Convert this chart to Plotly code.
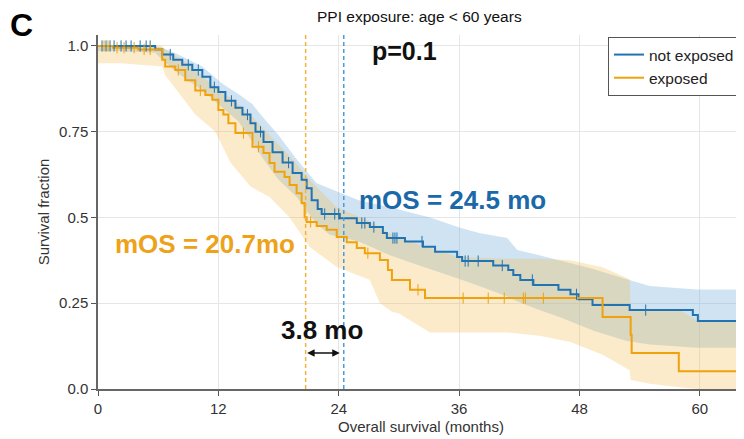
import numpy as np
import plotly.graph_objects as go

# ---------------- data ----------------
# Kaplan-Meier step curve: not exposed
ne_t = [0, 5.7, 6.4, 7.5, 8.4, 9.4, 10.4, 11.2, 12.0, 12.7, 13.7, 14.4, 15.2, 15.7, 16.5,
        17.4, 18.4, 19.4, 20.3, 20.8, 21.3, 21.9, 22.3, 24.1, 25.8, 27.1, 28.4, 28.8, 30.6,
        32.4, 33.6, 35.8, 36.3, 39.4, 40.9, 41.4, 42.1, 43.4, 45.9, 47.1, 47.9, 49.3, 53.0,
        59.3, 59.8]
ne_s = [1.0, 0.99, 0.975, 0.96, 0.945, 0.93, 0.91, 0.88, 0.866, 0.84, 0.82, 0.80, 0.775,
        0.75, 0.72, 0.69, 0.66, 0.63, 0.61, 0.585, 0.55, 0.525, 0.51, 0.498, 0.484, 0.472,
        0.455, 0.44, 0.43, 0.415, 0.40, 0.385, 0.373, 0.36, 0.347, 0.332, 0.318, 0.303,
        0.289, 0.276, 0.262, 0.245, 0.23, 0.216, 0.198]
ne_cens = [0.4, 0.8, 1.2, 1.6, 2.3, 2.8, 3.3, 4.2, 4.8, 5.2, 7.2, 9.0, 10.0, 11.6, 13.3,
           14.9, 16.2, 19.0, 22.6, 23.6, 24.0, 26.3, 26.6, 27.5, 29.4, 29.6, 29.8, 32.3,
           36.6, 36.9, 37.9, 40.3, 43.3, 47.7, 54.6]

# Kaplan-Meier step curve: exposed
ex_t = [0, 1.5, 4.0, 6.4, 6.7, 7.7, 8.7, 9.7, 10.7, 11.4, 12.0, 12.5, 13.0, 13.7, 15.4,
        16.5, 17.1, 17.6, 18.6, 19.1, 19.8, 20.3, 20.6, 20.8, 21.8, 22.8, 23.8, 24.8, 25.8,
        26.6, 28.1, 28.9, 29.3, 31.1, 32.6, 50.3, 53.1, 53.2, 57.9]
ex_s = [1.0, 0.995, 0.99, 0.96, 0.94, 0.93, 0.90, 0.87, 0.857, 0.843, 0.813, 0.80, 0.775,
        0.746, 0.706, 0.688, 0.659, 0.633, 0.618, 0.595, 0.571, 0.542, 0.501, 0.487, 0.475,
        0.464, 0.443, 0.428, 0.411, 0.396, 0.376, 0.347, 0.318, 0.289, 0.265, 0.21, 0.158,
        0.105, 0.052]
ex_cens = [0.6, 1.0, 1.9, 2.6, 3.6, 4.6, 5.2, 8.0, 10.2, 14.5, 16.0, 21.2, 26.9, 31.9,
           36.4, 38.9, 40.5, 42.4, 42.6, 44.4]

# confidence bands
ne_band_t = [0, 2, 5.7, 6.4, 8, 9.4, 10.4, 12.4, 14, 15.4, 16.5, 18, 19.8, 21.8, 23.1, 26,
             29.1, 31, 33.1, 36.1, 38, 40.8, 41.8, 44, 46, 49.4, 52.7, 55, 59.7, 64.4]
ne_hi = [1.0, 1.0, 1.0, 0.995, 0.975, 0.955, 0.94, 0.89, 0.86, 0.83, 0.79, 0.74, 0.67, 0.60,
         0.585, 0.55, 0.53, 0.515, 0.50, 0.47, 0.455, 0.44, 0.405, 0.39, 0.375, 0.35, 0.32,
         0.30, 0.29, 0.29]
ne_lo = [0.985, 0.985, 0.98, 0.96, 0.92, 0.89, 0.87, 0.82, 0.78, 0.72, 0.67, 0.61, 0.56,
         0.48, 0.45, 0.43, 0.39, 0.37, 0.35, 0.32, 0.30, 0.27, 0.255, 0.23, 0.21, 0.17, 0.14,
         0.13, 0.12, 0.12]

ex_band_t = [0, 2.3, 6.4, 6.7, 8.4, 9.7, 11.7, 13.2, 15.2, 17.1, 19.1, 21.1, 23.8, 27.1,
             28.1, 29.3, 30, 33.1, 36, 40.8, 44, 47.1, 50.3, 53.0, 53.1, 55, 58, 59.7, 64.4]
ex_hi = [1.0, 1.0, 1.0, 0.99, 0.96, 0.93, 0.88, 0.85, 0.80, 0.74, 0.68, 0.61, 0.53, 0.49,
         0.47, 0.45, 0.44, 0.41, 0.385, 0.38, 0.38, 0.375, 0.355, 0.32, 0.23, 0.23, 0.23,
         0.2, 0.2]
ex_lo = [0.95, 0.95, 0.94, 0.915, 0.85, 0.80, 0.75, 0.66, 0.59, 0.56, 0.50, 0.414, 0.356,
         0.318, 0.25, 0.225, 0.22, 0.165, 0.165, 0.165, 0.155, 0.137, 0.10, 0.055, 0.026,
         0.015, 0.005, 0.0, 0.0]

median_ne = 24.5
median_ex = 20.7
x_ticks = [0, 12, 24, 36, 48, 60]
y_ticks = [0.0, 0.25, 0.5, 0.75, 1.0]
y_ticklabels = ["0.0", "0.25", "0.5", "0.75", "1.0"]
x_end = 64.4

BLUE = "#2273b2"
ORANGE = "#efa20c"

# page offset of the figure inside the browser body (default 8px body margin)
OFF = 8
ML, MR, MT, MB = 98 - OFF, OFF, 35 - OFF, 439 - 389 + OFF
PW, PH = 744 - ML - MR, 439 - MT - MB


def px_to_paper(sx, sy):
    fx, fy = sx - OFF, sy - OFF
    return (fx - ML) / PW, (439 - MB - fy) / PH


def extend(t, s):
    return list(t) + [x_end], list(s) + [s[-1]]


def at(t, s, c):
    idx = np.searchsorted(np.array(t), np.array(c), side="right") - 1
    return np.array(s)[idx]


fig = go.Figure()

# bands
fig.add_trace(go.Scatter(x=ne_band_t, y=ne_lo, mode="lines", line=dict(width=0),
                         showlegend=False, hoverinfo="skip"))
fig.add_trace(go.Scatter(x=ne_band_t, y=ne_hi, mode="lines", line=dict(width=0),
                         fill="tonexty", fillcolor="rgba(110,170,220,0.33)",
                         showlegend=False, hoverinfo="skip"))
fig.add_trace(go.Scatter(x=ex_band_t, y=ex_lo, mode="lines", line=dict(width=0),
                         showlegend=False, hoverinfo="skip"))
fig.add_trace(go.Scatter(x=ex_band_t, y=ex_hi, mode="lines", line=dict(width=0),
                         fill="tonexty", fillcolor="rgba(245,190,80,0.30)",
                         showlegend=False, hoverinfo="skip"))

# KM curves
xt, ys = extend(ne_t, ne_s)
fig.add_trace(go.Scatter(x=xt, y=ys, mode="lines", name="not exposed",
                         line=dict(color=BLUE, width=2, shape="hv")))
xt, ys = extend(ex_t, ex_s)
fig.add_trace(go.Scatter(x=xt, y=ys, mode="lines", name="exposed",
                         line=dict(color=ORANGE, width=2, shape="hv")))

# censor marks
fig.add_trace(go.Scatter(x=ne_cens, y=at(ne_t, ne_s, ne_cens), mode="markers",
                         marker=dict(symbol="line-ns", size=8, line=dict(color=BLUE, width=1)),
                         showlegend=False, hoverinfo="skip"))
fig.add_trace(go.Scatter(x=ex_cens, y=at(ex_t, ex_s, ex_cens), mode="markers",
                         marker=dict(symbol="line-ns", size=8, line=dict(color=ORANGE, width=1)),
                         showlegend=False, hoverinfo="skip"))

# median lines
fig.add_shape(type="line", x0=median_ex, x1=median_ex, y0=0, y1=1, yref="paper",
              line=dict(color="#f2b23c", width=1.5, dash="4px,3px"))
fig.add_shape(type="line", x0=median_ne, x1=median_ne, y0=0, y1=1, yref="paper",
              line=dict(color="#4b9cd8", width=1.5, dash="4px,3px"))

FONT = "Liberation Sans, Arial, sans-serif"
fig.add_annotation(x=30.6, y=0.985, text="<b>p=0.1</b>", showarrow=False,
                   font=dict(family=FONT, size=25, color="#111"))
fig.add_annotation(x=35.3, y=0.551, text="<b>mOS = %.1f mo</b>" % median_ne, showarrow=False,
                   font=dict(family=FONT, size=26, color="#1a69a8"))
fig.add_annotation(x=10.7, y=0.423, text="<b>mOS = %.1fmo</b>" % median_ex, showarrow=False,
                   font=dict(family=FONT, size=26, color="#eda21a"))
fig.add_annotation(x=22.3, y=0.172, text="<b>%.1f mo</b>" % (median_ne - median_ex),
                   showarrow=False, font=dict(family=FONT, size=26, color="#111"))
fig.add_annotation(x=24.1, y=0.105, ax=median_ex, ay=0.105, axref="x", ayref="y",
                   text="", showarrow=True, arrowhead=2, arrowside="end+start",
                   arrowsize=1, arrowwidth=1.5, arrowcolor="#111")

# panel letter and title
cx, cy = px_to_paper(21, 25)
fig.add_annotation(x=cx, y=cy, xref="paper", yref="paper", text="<b>C</b>", showarrow=False,
                   xanchor="center", yanchor="middle",
                   font=dict(family=FONT, size=32, color="#000"))
tx, ty = px_to_paper(419, 17)
fig.add_annotation(x=tx, y=ty, xref="paper", yref="paper", text="PPI exposure: age < 60 years",
                   showarrow=False, xanchor="center", yanchor="middle",
                   font=dict(family=FONT, size=15.5, color="#111"))

lx, ly = px_to_paper(608, 37)
fig.update_layout(
    width=744, height=439,
    margin=dict(l=ML, r=MR, t=MT, b=MB, autoexpand=False),
    paper_bgcolor="white", plot_bgcolor="white",
    font=dict(family=FONT, color="#333"),
    legend=dict(x=lx, y=ly, xanchor="left", yanchor="top", traceorder="normal",
                bgcolor="white", bordercolor="#555", borderwidth=1, itemwidth=30,
                tracegroupgap=4, font=dict(size=15.5, color="#222")),
)

fig.update_xaxes(range=[0, x_end], tickvals=x_ticks, ticks="outside", ticklen=5,
                 tickcolor="#555", showline=True, linecolor="#666", linewidth=1.5,
                 showgrid=True, gridcolor="#e6e6e6", zeroline=False,
                 tickfont=dict(size=15, color="#333"),
                 title=dict(text="Overall survival (months)", font=dict(size=15, color="#333"),
                            standoff=6))
fig.update_yaxes(range=[0, 1.032], tickvals=y_ticks, ticktext=y_ticklabels, ticks="outside",
                 ticklen=5, tickcolor="#555", showline=True, linecolor="#666", linewidth=1.5,
                 showgrid=True, gridcolor="#e6e6e6", zeroline=False,
                 tickfont=dict(size=15, color="#333"),
                 title=dict(text="Survival fraction", font=dict(size=15, color="#333"),
                            standoff=6))

fig.write_html("out.html")
